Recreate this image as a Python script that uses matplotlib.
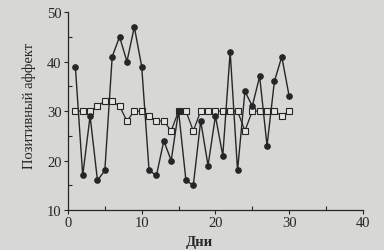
import matplotlib
matplotlib.use("Agg")
import matplotlib.pyplot as plt
from matplotlib.ticker import MultipleLocator

days = list(range(1, 31))
high_var = [39, 17, 29, 16, 18, 41, 45, 40, 47, 39,
            18, 17, 24, 20, 30, 16, 15, 28, 19, 29,
            21, 42, 18, 34, 31, 37, 23, 36, 41, 33]
low_var = [30, 30, 30, 31, 32, 32, 31, 28, 30, 30,
           29, 28, 28, 26, 30, 30, 26, 30, 30, 30,
           30, 30, 30, 26, 30, 30, 30, 30, 29, 30]
x_ticks = [0, 10, 20, 30, 40]
y_ticks = [10, 20, 30, 40, 50]

plt.rcParams['font.family'] = ['Liberation Serif', 'DejaVu Serif']
bg = '#d7d7d5'
ink = '#262626'

fig = plt.figure(figsize=(3.84, 2.51), dpi=100, facecolor=bg)
ax = fig.add_axes([0.177, 0.159, 0.768, 0.789], facecolor=bg)

ax.plot(days, low_var, color=ink, lw=0.9, marker='s', ms=4.2,
        mfc='#e4e4e2', mec=ink, mew=0.8, zorder=2)
ax.plot(days, high_var, color=ink, lw=1.0, marker='o', ms=3.8,
        mfc=ink, mec=ink, zorder=3)

ax.set_xlim(0, 40)
ax.set_ylim(10, 50)
ax.set_xticks(x_ticks)
ax.set_yticks(y_ticks)
ax.xaxis.set_minor_locator(MultipleLocator(5))
ax.yaxis.set_minor_locator(MultipleLocator(5))
ax.tick_params(which='major', direction='out', length=3, width=0.8,
               colors=ink, labelsize=10.5, pad=1.5)
ax.tick_params(which='minor', direction='in', length=3, width=0.8, colors=ink)
for s in ['top', 'right']:
    ax.spines[s].set_visible(False)
for s in ['left', 'bottom']:
    ax.spines[s].set_color(ink)
    ax.spines[s].set_linewidth(0.9)

ax.set_ylabel('Позитивный аффект', fontsize=10.5, color=ink)
ax.set_xlabel('Дни', fontsize=10.5, color=ink, fontweight='bold')
ax.yaxis.set_label_coords(-0.108, 0.53)
ax.xaxis.set_label_coords(0.447, -0.125)

fig.savefig('out.png', dpi=100, facecolor=bg)
